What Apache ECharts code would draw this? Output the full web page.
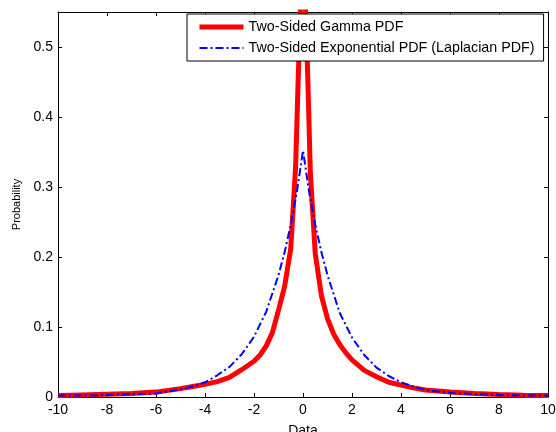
<!DOCTYPE html>
<html>
<head>
<meta charset="utf-8">
<script src="https://cdn.jsdelivr.net/npm/echarts@6/dist/echarts.min.js"></script>
<style>html,body{margin:0;padding:0;background:#fff}#c{width:556px;height:432px}</style>
</head>
<body>
<div id="c"></div>
<script>
// Data
var gammaX = [-10, -9, -8, -7, -6, -5, -4.5, -4, -3.5, -3, -2.5, -2, -1.75, -1.5, -1.25, -1, -0.75, -0.5, -0.3, -0.2, -0.1, 0, 0.1, 0.2, 0.3, 0.5, 0.75, 1, 1.25, 1.5, 1.75, 2, 2.5, 3, 3.5, 4, 4.5, 5, 6, 7, 8, 9, 10];
var gammaY = [0.002, 0.003, 0.004, 0.005, 0.007, 0.012, 0.015, 0.018, 0.022, 0.028, 0.039, 0.051, 0.06, 0.073, 0.092, 0.124, 0.158, 0.212, 0.33, 0.45, 0.56, 0.9, 0.56, 0.45, 0.32, 0.205, 0.145, 0.112, 0.09, 0.075, 0.063, 0.053, 0.038, 0.029, 0.021, 0.017, 0.013, 0.01, 0.007, 0.005, 0.0035, 0.0025, 0.002];
var laplaceX = [-10, -9, -8, -7, -6, -5, -4.5, -4, -3.5, -3, -2.5, -2, -1.5, -1, -0.75, -0.5, -0.25, 0, 0.25, 0.5, 0.75, 1, 1.5, 2, 2.5, 3, 3.5, 4, 4.5, 5, 6, 7, 8, 9, 10];
var laplaceY = [0.002, 0.002, 0.003, 0.004, 0.005, 0.011, 0.015, 0.021, 0.031, 0.043, 0.061, 0.086, 0.122, 0.174, 0.207, 0.246, 0.293, 0.352, 0.293, 0.246, 0.207, 0.174, 0.12, 0.085, 0.06, 0.042, 0.03, 0.021, 0.015, 0.01, 0.006, 0.004, 0.003, 0.002, 0.002];
var seriesNames = ['Two-Sided Gamma PDF', 'Two-Sided Exponential PDF (Laplacian PDF)'];
var xTicks = {min: -10, max: 10, interval: 2};
var yTicks = {min: 0, max: 0.55, interval: 0.1};

function pairs(xs, ys) { return xs.map(function (x, i) { return [x, ys[i]]; }); }

var font = 'Liberation Sans, Arial, sans-serif';
var chart = echarts.init(document.getElementById('c'), null, {renderer: 'canvas'});
var axisLine = {show: true, onZero: false, lineStyle: {color: '#000', width: 1}};
var tick = {show: true, inside: true, length: 4, lineStyle: {color: '#000'}};
chart.setOption({
  animation: false,
  backgroundColor: '#fff',
  grid: {left: 58, right: 8, top: 12, bottom: 35, containLabel: false, outerBoundsMode: 'none'},
  legend: {
    orient: 'vertical', left: 187, top: 14,
    padding: [6, 9, 6, 10],
    itemWidth: 44, itemHeight: 14, itemGap: 7,
    backgroundColor: '#fff', borderColor: '#000', borderWidth: 1,
    itemStyle: {opacity: 0},
    textStyle: {fontFamily: font, fontSize: 14.3, color: '#000'},
    data: [
      {name: seriesNames[0], lineStyle: {width: 5}},
      {name: seriesNames[1], lineStyle: {width: 2}}
    ]
  },
  xAxis: [{
    type: 'value', min: xTicks.min, max: xTicks.max, interval: xTicks.interval,
    axisLine: axisLine, axisTick: tick, splitLine: {show: false},
    axisLabel: {fontFamily: font, fontSize: 14, color: '#000', margin: 6},
    name: 'Data', nameLocation: 'middle', nameGap: 27,
    nameTextStyle: {fontFamily: font, fontSize: 14, color: '#000'}
  }, {
    type: 'value', position: 'top', min: xTicks.min, max: xTicks.max, interval: xTicks.interval,
    axisLine: axisLine, axisTick: tick, axisLabel: {show: false}, splitLine: {show: false}
  }],
  yAxis: [{
    type: 'value', min: yTicks.min, max: yTicks.max, interval: yTicks.interval,
    axisLine: axisLine, axisTick: tick, splitLine: {show: false},
    axisLabel: {fontFamily: font, fontSize: 14, color: '#000', margin: 5,
      formatter: function (v) { return v > 0.5 ? '' : String(Math.round(v * 10) / 10); }},
    name: 'Probability', nameLocation: 'middle', nameGap: 36,
    nameTextStyle: {fontFamily: font, fontSize: 11, color: '#000'}
  }, {
    type: 'value', position: 'right', min: yTicks.min, max: yTicks.max, interval: yTicks.interval,
    axisLine: axisLine, axisTick: tick, axisLabel: {show: false}, splitLine: {show: false}
  }],
  series: [{
    name: seriesNames[0], type: 'line', xAxisIndex: 0, yAxisIndex: 0,
    data: pairs(gammaX, gammaY), symbol: 'none', clip: true,
    lineStyle: {color: '#ff0000', width: 5}, itemStyle: {color: '#ff0000'}
  }, {
    name: seriesNames[1], type: 'line', xAxisIndex: 0, yAxisIndex: 0,
    data: pairs(laplaceX, laplaceY), symbol: 'none', clip: true,
    lineStyle: {color: '#0000ff', width: 2, type: [8, 3, 2, 3]}, itemStyle: {color: '#0000ff'}
  }]
});
</script>
</body>
</html>
